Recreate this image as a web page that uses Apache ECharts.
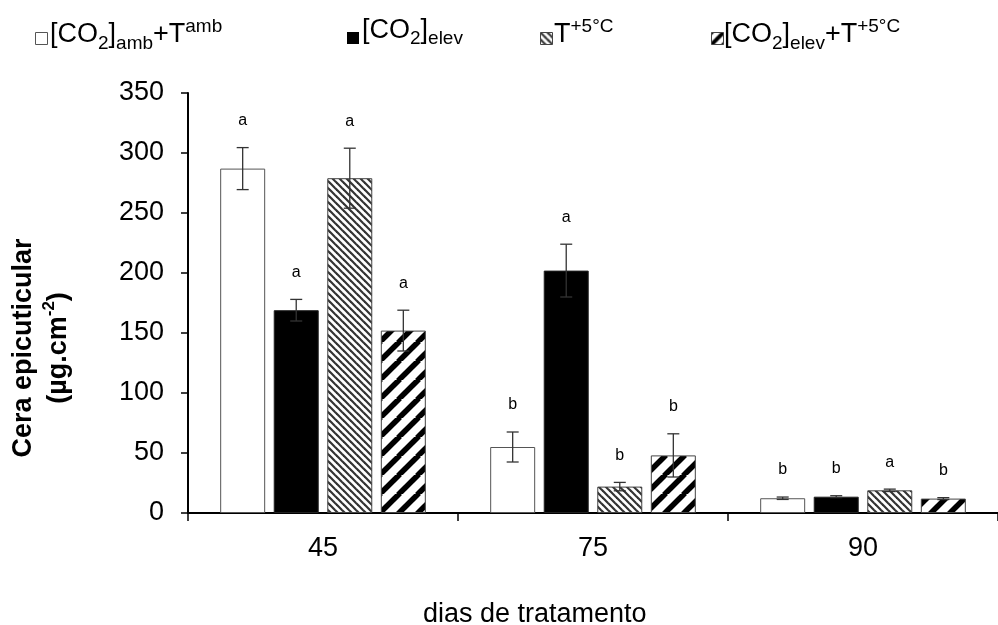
<!DOCTYPE html>
<html>
<head>
<meta charset="utf-8">
<script src="https://cdn.jsdelivr.net/npm/echarts@6/dist/echarts.min.js"></script>
<style>
  html, body { margin: 0; padding: 0; background: #fff; }
  #chart { width: 998px; height: 625px; }
</style>
</head>
<body>
<div id="chart"></div>
<script>
// Epicuticular wax (µg.cm-2) by days of treatment, four CO2 / temperature treatments
const days = ['45', '75', '90'];

const ambMean = [287, 55, 12.3];
const ambErr = [17.5, 12.5, 1.0];
const ambLetters = ['a', 'b', 'b'];

const co2Mean = [169, 202, 13.6];
const co2Err = [9, 22, 0.8];
const co2Letters = ['a', 'a', 'b'];

const tempMean = [279, 22, 18.9];
const tempErr = [25, 3.5, 1.0];
const tempLetters = ['a', 'b', 'a'];

const bothMean = [152, 48, 12];
const bothErr = [17, 18, 0.8];
const bothLetters = ['a', 'b', 'b'];

const yTicks = [0, 50, 100, 150, 200, 250, 300, 350];

const FONT = '"Liberation Sans", Arial, Helvetica, sans-serif';
const BAR_W = 45;
const BAR_GAP = 0.19;

// hatch tiles for the patterned bars
function hatchTile(size, lineWidth, color, dir) {
  const c = document.createElement('canvas');
  c.width = size; c.height = size;
  const ctx = c.getContext('2d');
  ctx.fillStyle = '#fff';
  ctx.fillRect(0, 0, size, size);
  ctx.strokeStyle = color;
  ctx.lineWidth = lineWidth;
  for (let k = -1; k <= 1; k++) {
    ctx.beginPath();
    if (dir === 'down') {
      ctx.moveTo(k * size - 1, -1);
      ctx.lineTo(k * size + size + 1, size + 1);
    } else {
      ctx.moveTo(k * size - 1, size + 1);
      ctx.lineTo(k * size + size + 1, -1);
    }
    ctx.stroke();
  }
  return c;
}
const fineHatch = { image: hatchTile(7, 2.2, '#333', 'down'), repeat: 'repeat' };
const wideHatch = { image: hatchTile(19, 5.5, '#000', 'up'), repeat: 'repeat' };
const wideHatchIcon = { image: hatchTile(12, 4, '#000', 'up'), repeat: 'repeat' };

const seriesDefs = [
  { name: 'amb', mean: ambMean, err: ambErr, letters: ambLetters,
    style: { color: '#fff', borderColor: '#555', borderWidth: 1 } },
  { name: 'co2', mean: co2Mean, err: co2Err, letters: co2Letters,
    style: { color: '#000', borderColor: '#222', borderWidth: 1 } },
  { name: 'temp', mean: tempMean, err: tempErr, letters: tempLetters,
    style: { color: fineHatch, borderColor: '#444', borderWidth: 1 } },
  { name: 'both', mean: bothMean, err: bothErr, letters: bothLetters,
    style: { color: wideHatch, borderColor: '#444', borderWidth: 1 } }
];

// horizontal offset of each bar from its category centre
const step = BAR_W * (1 + BAR_GAP);
const offsets = seriesDefs.map((d, i) => (i - (seriesDefs.length - 1) / 2) * step);

const errData = [];
seriesDefs.forEach((d, s) => {
  d.mean.forEach((m, c) => errData.push([c, m, d.err[c], s]));
});

const chart = echarts.init(document.getElementById('chart'));

const legendRich = {
  m: { fontSize: 27, lineHeight: 36, fontFamily: FONT, color: '#000' },
  sb: { fontSize: 19, lineHeight: 16, verticalAlign: 'bottom', fontFamily: FONT, color: '#000' },
  sp: { fontSize: 19, lineHeight: 20, verticalAlign: 'top', fontFamily: FONT, color: '#000' }
};

function legendText(x, text) {
  return {
    type: 'text', left: x, top: 17,
    style: { text: text, rich: legendRich, fontFamily: FONT, fontSize: 27, fill: '#000' }
  };
}

const option = {
  animation: false,
  backgroundColor: '#fff',
  grid: { left: 188, top: 93, right: -8, bottom: 112 },
  xAxis: {
    type: 'category',
    data: days,
    axisLine: { lineStyle: { color: '#000', width: 2 } },
    axisTick: { show: true, length: 8, lineStyle: { color: '#000', width: 1.5 } },
    axisLabel: { color: '#000', fontSize: 27, fontFamily: FONT, margin: 22 }
  },
  yAxis: {
    type: 'value',
    min: yTicks[0],
    max: yTicks[yTicks.length - 1],
    interval: yTicks[1] - yTicks[0],
    splitLine: { show: false },
    axisLine: { show: true, lineStyle: { color: '#000', width: 2 } },
    axisTick: { show: true, length: 7, lineStyle: { color: '#000', width: 1.5 } },
    axisLabel: { color: '#000', fontSize: 27, fontFamily: FONT, margin: 24 }
  },
  series: seriesDefs.map(d => ({
    type: 'bar',
    name: d.name,
    data: d.mean,
    barWidth: BAR_W,
    barGap: (BAR_GAP * 100) + '%',
    itemStyle: d.style
  })).concat([{
    type: 'custom',
    name: 'error',
    z: 10,
    data: errData,
    encode: { x: 0, y: 1 },
    renderItem: function (params, api) {
      const c = api.value(0), m = api.value(1), e = api.value(2), s = api.value(3);
      const x = api.coord([c, m])[0] + offsets[s];
      const yTop = api.coord([c, m + e])[1];
      const yBot = api.coord([c, m - e])[1];
      const cap = 6;
      const ls = { stroke: '#333', lineWidth: 1.3 };
      return {
        type: 'group',
        children: [
          { type: 'line', shape: { x1: x, y1: yTop, x2: x, y2: yBot }, style: ls },
          { type: 'line', shape: { x1: x - cap, y1: yTop, x2: x + cap, y2: yTop }, style: ls },
          { type: 'line', shape: { x1: x - cap, y1: yBot, x2: x + cap, y2: yBot }, style: ls },
          { type: 'text', x: x, y: yTop - 27,
            style: { text: seriesDefs[s].letters[c], fontSize: 16, fontFamily: FONT, fill: '#000',
                     align: 'center', verticalAlign: 'middle' } }
        ]
      };
    }
  }]),
  graphic: [
    // legend
    { type: 'rect', left: 35, top: 32, shape: { width: 12, height: 12 },
      style: { fill: '#fff', stroke: '#555', lineWidth: 1 } },
    legendText(50, '{m|[CO}{sb|2}{m|]}{sb|amb}{m|+T}{sp|amb}'),
    { type: 'rect', left: 347, top: 32, shape: { width: 12, height: 12 },
      style: { fill: '#000' } },
    legendText(362, '{m|[CO}{sb|2}{m|]}{sb|elev}'),
    { type: 'rect', left: 540, top: 32, shape: { width: 12, height: 12 },
      style: { fill: fineHatch, stroke: '#444', lineWidth: 1 } },
    legendText(554, '{m|T}{sp|+5°C}'),
    { type: 'rect', left: 711, top: 32, shape: { width: 12, height: 12 },
      style: { fill: wideHatchIcon, stroke: '#444', lineWidth: 1 } },
    legendText(724, '{m|[CO}{sb|2}{m|]}{sb|elev}{m|+T}{sp|+5°C}'),
    // y axis title
    { type: 'text', x: 41, y: 348, rotation: Math.PI / 2,
      style: {
        text: '{b|Cera epicuticular}\n{b|(µg.cm}{bs|-2}{b|)}',
        align: 'center', verticalAlign: 'middle',
        rich: {
          b: { fontSize: 27, fontWeight: 'bold', lineHeight: 35, fontFamily: FONT, color: '#000' },
          bs: { fontSize: 17, fontWeight: 'bold', lineHeight: 22, verticalAlign: 'top', fontFamily: FONT, color: '#000' }
        }
      } },
    // x axis title
    { type: 'text', x: 423, y: 615,
      style: { text: 'dias de tratamento', fontSize: 27, fontFamily: FONT, fill: '#000',
               align: 'left', verticalAlign: 'middle' } }
  ]
};

chart.setOption(option);
</script>
</body>
</html>
